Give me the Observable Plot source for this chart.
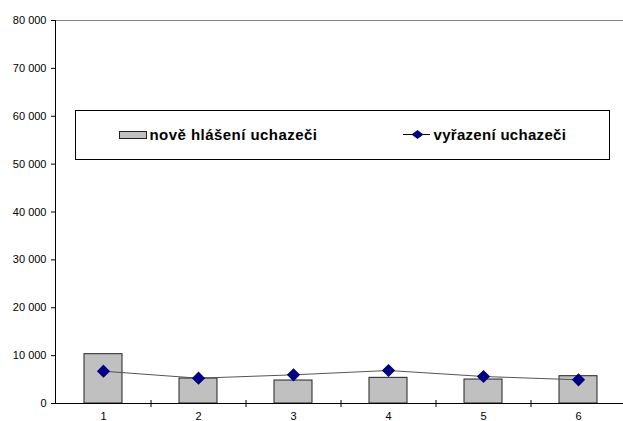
<!DOCTYPE html>
<html>
<head>
<meta charset="utf-8">
<script src="https://cdn.jsdelivr.net/npm/d3@7"></script>
<script src="https://cdn.jsdelivr.net/npm/@observablehq/plot@0.6"></script>
<style>
  html, body { margin: 0; padding: 0; background: #fff; }
  #chart svg { display: block; }
</style>
</head>
<body>
<div id="chart"></div>
<script>
const categories = ["1", "2", "3", "4", "5", "6"];
const noveHlaseni = [10300, 5220, 4800, 5360, 5010, 5700];
const vyrazeni = [6740, 5290, 5990, 6890, 5640, 4950];
const yTicks = [0, 10000, 20000, 30000, 40000, 50000, 60000, 70000, 80000];
const seriesNames = ["nově hlášení uchazeči", "vyřazení uchazeči"];

const rows = categories.map((c, i) => ({cat: c, nove: noveHlaseni[i], vyr: vyrazeni[i]}));
const fmt = d3.formatLocale({thousands: " ", grouping: [3], decimal: ","}).format(",");

const W = 623, H = 421;
const plot = Plot.plot({
  width: W,
  height: H,
  marginLeft: 55,
  marginRight: 0,
  marginTop: 20,
  marginBottom: 18,
  style: {fontFamily: "'Liberation Sans', Arial, sans-serif", fontSize: "11px", color: "#000", background: "#fff"},
  x: {domain: categories, range: [55, 625], paddingInner: 0.6, paddingOuter: 0.3, label: null},
  y: {domain: [0, 80000], label: null},
  marks: [
    Plot.ruleY([80000], {stroke: "#888", strokeWidth: 1}),
    Plot.barY(rows, {x: "cat", y: "nove", fill: "#c0c0c0", stroke: "#222", strokeWidth: 1}),
    Plot.line(rows, {x: "cat", y: "vyr", stroke: "#555", strokeWidth: 1}),
    Plot.dot(rows, {x: "cat", y: "vyr", symbol: "diamond2", r: 5, fill: "#000080", stroke: "#000080"}),
    Plot.ruleY([0], {stroke: "#000", strokeWidth: 1}),
    Plot.frame({anchor: "left", stroke: "#000"}),
    Plot.axisY({ticks: yTicks, tickFormat: fmt, tickSize: 4, tickPadding: 5, fill: "#000", stroke: "#000", label: null}),
    Plot.axisX({ticks: categories.slice(1), tickFormat: () => "", tickSize: 7, dy: -3, dx: -47.5, stroke: "#000", label: null}),
    Plot.axisX({ticks: categories, tickSize: 0, tickPadding: 9, fill: "#000", label: null})
  ]
});
document.getElementById("chart").appendChild(plot);

// legend (drawn inside the plot area like the original)
const svg = d3.select(plot);
const lg = svg.append("g")
  .style("font-family", "'Liberation Sans', Arial, sans-serif")
  .attr("text-anchor", "start");
lg.append("rect").attr("x", 75.5).attr("y", 110.5).attr("width", 534).attr("height", 49)
  .attr("fill", "#fff").attr("stroke", "#000").attr("stroke-width", 1);
lg.append("rect").attr("x", 119.5).attr("y", 131.5).attr("width", 27).attr("height", 7)
  .attr("fill", "#c0c0c0").attr("stroke", "#222");
lg.append("text").attr("x", 149.5).attr("y", 139.5).attr("text-anchor", "start")
  .style("font-size", "15px").style("font-weight", "bold").style("letter-spacing", "0.45px")
  .attr("fill", "#000").text(seriesNames[0]);
lg.append("line").attr("x1", 403).attr("x2", 430).attr("y1", 134.5).attr("y2", 134.5)
  .attr("stroke", "#000").attr("stroke-width", 1);
lg.append("path").attr("d", "M-6,0L0,-4.5L6,0L0,4.5Z").attr("transform", "translate(417.5,134.5)")
  .attr("fill", "#000080");
lg.append("text").attr("x", 433.5).attr("y", 139.5).attr("text-anchor", "start")
  .style("font-size", "15px").style("font-weight", "bold").style("letter-spacing", "0.3px")
  .attr("fill", "#000").text(seriesNames[1]);
</script>
</body>
</html>
